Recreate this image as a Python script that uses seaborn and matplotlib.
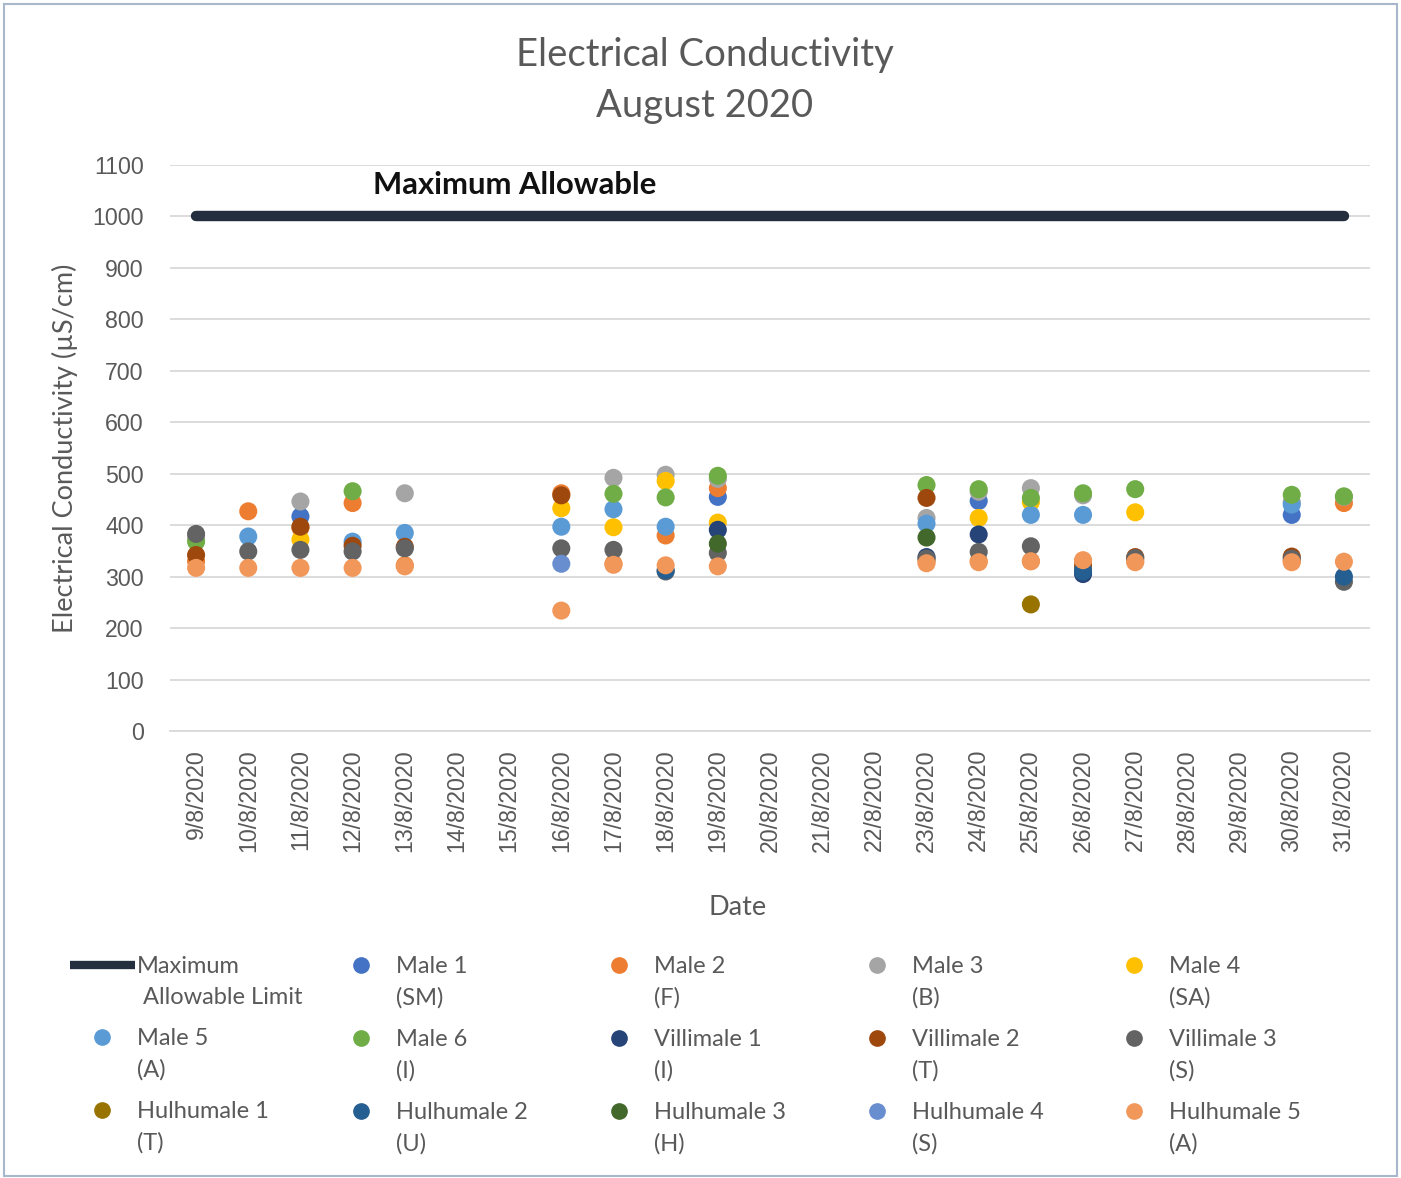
import numpy as np
import pandas as pd
import matplotlib
matplotlib.use("Agg")
import matplotlib.pyplot as plt
import seaborn as sns
from matplotlib.lines import Line2D
from matplotlib.patches import Rectangle
from matplotlib.legend_handler import HandlerLine2D

N = np.nan

dates = ["9/8/2020", "10/8/2020", "11/8/2020", "12/8/2020", "13/8/2020", "14/8/2020",
         "15/8/2020", "16/8/2020", "17/8/2020", "18/8/2020", "19/8/2020", "20/8/2020",
         "21/8/2020", "22/8/2020", "23/8/2020", "24/8/2020", "25/8/2020", "26/8/2020",
         "27/8/2020", "28/8/2020", "29/8/2020", "30/8/2020", "31/8/2020"]

limit = [1000] * 23

#            9    10   11   12   13  14 15  16   17   18   19  20 21 22  23   24   25   26   27  28 29  30   31
male1 = [N, N, 417, N, N, N, N, N, N, N, 455, N, N, N, N, 447, N, N, N, N, N, 420, N]
male2 = [330, 427, 395, 443, 322, N, N, 462, 325, 380, 472, N, N, N, 330, 330, 330, 330, 330, N, N, 330, 443]
male3 = [375, N, 446, N, 462, N, N, N, 492, 498, 490, N, N, N, 414, 465, 472, 458, N, N, N, 445, 455]
male4 = [N, N, 372, N, N, N, N, 433, 396, 486, 405, N, N, N, N, 414, 445, N, 425, N, N, N, N]
male5 = [N, 378, N, 368, 385, N, N, 397, 431, 397, N, N, N, N, 403, N, 420, 420, N, N, N, 440, N]
male6 = [368, N, N, 466, N, N, N, N, 461, 454, 496, N, N, N, 478, 470, 453, 462, 470, N, N, 459, 456]
villimale1 = [N, N, N, N, N, N, N, N, N, N, 391, N, N, N, 338, 382, N, 305, N, N, N, N, N]
villimale2 = [342, N, 397, 360, 358, N, N, 458, N, N, N, N, N, N, 453, N, N, 320, 338, N, N, 339, N]
villimale3 = [383, 349, 352, 349, 355, N, N, 355, 352, 310, 346, N, N, N, 335, 348, 359, 315, 336, N, N, 335, 290]
hulhumale1 = [N, N, N, N, N, N, N, N, N, N, N, N, N, N, N, N, 246, N, N, N, N, N, N]
hulhumale2 = [N, N, N, N, N, N, N, N, N, 312, N, N, N, N, N, N, N, 310, N, N, N, N, 300]
hulhumale3 = [N, N, N, N, N, N, N, N, N, N, 364, N, N, N, 376, N, N, N, N, N, N, N, N]
hulhumale4 = [N, N, N, N, N, N, N, 325, N, N, N, N, N, N, N, N, N, N, N, N, N, N, N]
hulhumale5 = [317, 317, 317, 317, 320, N, N, 234, 323, 322, 320, N, N, N, 326, 328, 330, 332, 328, N, N, 328, 329]

sites = ["Male 1\n(SM)", "Male 2\n(F)", "Male 3\n(B)", "Male 4\n(SA)", "Male 5\n(A)", "Male 6\n(I)",
         "Villimale 1\n(I)", "Villimale 2\n(T)", "Villimale 3\n(S)", "Hulhumale 1\n(T)",
         "Hulhumale 2\n(U)", "Hulhumale 3\n(H)", "Hulhumale 4\n(S)", "Hulhumale 5\n(A)"]
series = [male1, male2, male3, male4, male5, male6, villimale1, villimale2, villimale3,
          hulhumale1, hulhumale2, hulhumale3, hulhumale4, hulhumale5]
colors = ["#4472C4", "#ED7D31", "#A5A5A5", "#FFC000", "#5B9BD5", "#70AD47", "#264478",
          "#9E480E", "#636363", "#997300", "#255E91", "#43682B", "#698ED0", "#F1975A"]
limit_label = "Maximum\n Allowable Limit"
limit_color = "#232F3E"

rows = []
for s, vals in zip(sites, series):
    for d, v in zip(dates, vals):
        if not np.isnan(v):
            rows.append({"Date": d, "Site": s, "Value": v})
df = pd.DataFrame(rows)

sns.set_theme(style="white")
plt.rcParams["font.family"] = ["Lato", "DejaVu Sans"]

fig = plt.figure(figsize=(14.01, 11.78), dpi=100)
ax = fig.add_axes([170 / 1401, 1 - 731 / 1178, 1200 / 1401, 566 / 1178])

sns.pointplot(x=dates, y=limit, order=dates, color=limit_color, marker="", linewidth=7.5,
              errorbar=None, ax=ax, zorder=3)
for ln in ax.lines:
    ln.set_solid_capstyle("round")

sns.stripplot(data=df, x="Date", y="Value", hue="Site", order=dates, hue_order=sites,
              palette=dict(zip(sites, colors)), jitter=False, size=13, linewidth=0,
              legend=False, ax=ax, zorder=4)

ax.set_xlim(-0.5, len(dates) - 0.5)
ax.set_ylim(0, 1100)
ax.set_yticks(range(0, 1101, 100))
ax.grid(axis="y", color="#D9D9D9", linewidth=1.3)
ax.set_axisbelow(True)
for sp in ["top", "right", "left"]:
    ax.spines[sp].set_visible(False)
ax.spines["bottom"].set_color("#D9D9D9")
ax.spines["bottom"].set_linewidth(1.3)

tickfont = {"family": ["Liberation Sans", "DejaVu Sans"], "size": 16.7}
ax.tick_params(axis="both", length=0, colors="#595959")
ax.tick_params(axis="y", pad=19)
ax.tick_params(axis="x", pad=13)
ax.set_xticks(range(len(dates)))
ax.set_xticklabels(dates, rotation=90, fontdict=tickfont)
ax.set_yticklabels([str(v) for v in range(0, 1101, 100)], fontdict=tickfont)

ax.set_xlabel("Date", fontsize=19.5, color="#595959")
ax.xaxis.set_label_coords((738 - 170) / 1200, (731 - 895) / 566)
ax.set_ylabel("Electrical Conductivity (µS/cm)", fontsize=19.5, color="#595959")
ax.yaxis.set_label_coords((78 - 170) / 1200, 0.5)

ax.text((515 - 170) / 1200, (731 - 185) / 566, "Maximum Allowable", transform=ax.transAxes,
        ha="center", va="center", fontsize=22.3, fontweight="bold", color="#111111")

fig.text(705 / 1401, 1 - 55 / 1178, "Electrical Conductivity", ha="center", va="center",
         fontsize=27.5, color="#595959")
fig.text(705 / 1401, 1 - 106 / 1178, "August 2020", ha="center", va="center",
         fontsize=27.5, color="#595959")


class TopLineHandler(HandlerLine2D):
    def __init__(self, offset, **kw):
        super().__init__(**kw)
        self.offset = offset

    def create_artists(self, legend, orig_handle, xdescent, ydescent, width, height,
                       fontsize, trans):
        arts = super().create_artists(legend, orig_handle, xdescent, ydescent, width,
                                      height, fontsize, trans)
        for a in arts:
            a.set_ydata(np.asarray(a.get_ydata(), dtype=float) + self.offset)
        return arts


handles = [Line2D([], [], color=limit_color, linewidth=6, solid_capstyle="butt")]
handles += [Line2D([], [], color=c, marker="o", linestyle="", markersize=11) for c in colors]
labels = [limit_label] + sites

col_x = [70, 329, 587, 845, 1102]
leg_fs = 17
for c in range(5):
    idx = [r * 5 + c for r in range(3)]
    hs = [handles[i] for i in idx]
    ls = [labels[i] for i in idx]
    leg = fig.legend(hs, ls, loc="upper left", bbox_to_anchor=(col_x[c] / 1401, 1 - 956 / 1178),
                     frameon=False, fontsize=leg_fs, handlelength=2.75, handletextpad=0.08,
                     borderpad=0, borderaxespad=0, labelspacing=0.84,
                     handler_map={Line2D: TopLineHandler(offset=12.5)})
    for t in leg.get_texts():
        t.set_color("#595959")
        t.set_linespacing(1.6)

fig.add_artist(Rectangle((0.003, 0.002), 0.994, 0.995, transform=fig.transFigure, fill=False,
                         edgecolor="#A7B8CC", linewidth=1.5))

fig.savefig("out.png", dpi=100, facecolor="white")
